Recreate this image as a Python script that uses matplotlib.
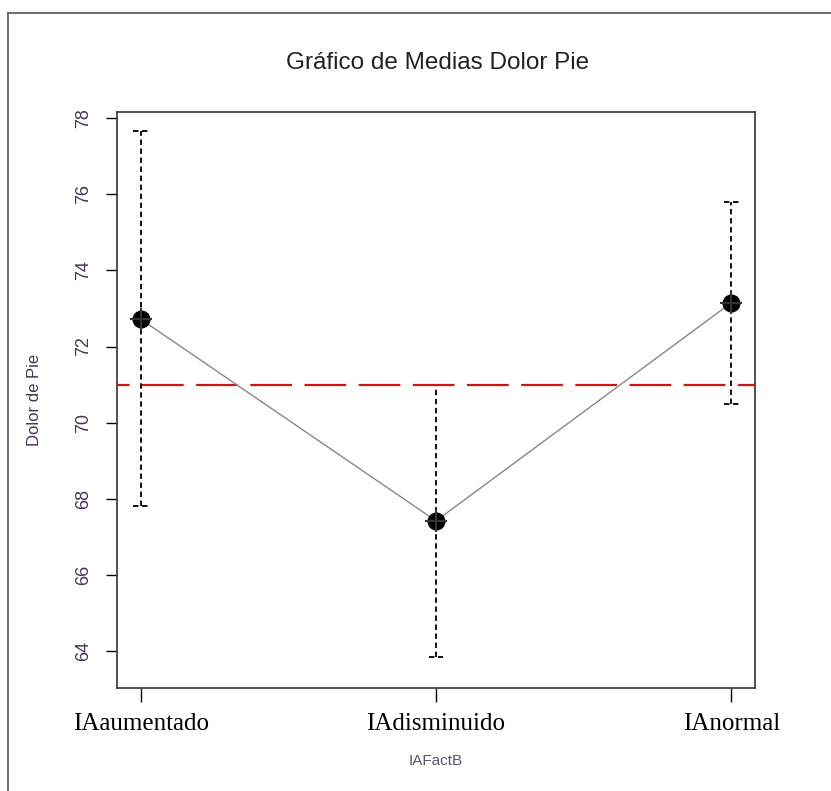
import numpy as np
import matplotlib.pyplot as plt
from matplotlib.lines import Line2D

groups = ['IAaumentado', 'IAdisminuido', 'IAnormal']
means = [72.72, 67.42, 73.15]
upper = [77.65, 71.0, 75.8]
lower = [67.8, 63.85, 70.5]
grand_mean = 71.0
yticks = [64, 66, 68, 70, 72, 74, 76, 78]

x = np.arange(1, len(groups) + 1)

fig = plt.figure(figsize=(8.31, 7.91), dpi=100)
ax = fig.add_axes([0.1408, 0.1302, 0.7677, 0.7282])

# outer frame (only left and top visible)
fig.add_artist(Line2D([0.0096, 0.0096], [0, 0.9836], color='#555555', lw=1.2, transform=fig.transFigure))
fig.add_artist(Line2D([0.0096, 1.0], [0.9836, 0.9836], color='#555555', lw=1.2, transform=fig.transFigure))

# error bars (dashed) with dashed caps
ax.vlines(x, lower, upper, colors='black', linestyles=(0, (3, 2)), lw=1.3, zorder=2)
cw = 0.025
ax.hlines(upper, x - cw, x + cw, colors='black', linestyles=(0, (3, 2)), lw=1.3, zorder=2)
ax.hlines(lower, x - cw, x + cw, colors='black', linestyles=(0, (3, 2)), lw=1.3, zorder=2)

# grand mean
ax.axhline(grand_mean, color='red', lw=1.5, linestyle=(14, (20, 6)), zorder=3)

# means
ax.plot(x, means, color='#888888', lw=1.0, zorder=3)
ax.plot(x, means, 'o', color='black', ms=12, zorder=4)
ax.plot(x, means, '+', color='#333333', ms=16, mew=1.5, zorder=5)

ax.set_xlim(0.92, 3.08)
ax.set_ylim(63.03, 78.16)
ax.set_yticks(yticks)
ax.set_yticklabels([str(v) for v in yticks], rotation=90, va='center',
                   fontsize=13, color='#4a3360', family='Liberation Sans')
ax.set_xticks(x)
ax.set_xticklabels(groups, fontsize=18, family='Liberation Serif', color='black')
ax.tick_params(axis='y', length=8, width=1, pad=10)
ax.tick_params(axis='x', length=10, width=1, pad=8)
for s in ax.spines.values():
    s.set_linewidth(1.2)
    s.set_color('#333333')

ax.set_ylabel('Dolor de Pie', fontsize=12, color='#4a3360', family='Liberation Sans', labelpad=24)
ax.set_xlabel('IAFactB', fontsize=11, color='#555577', family='Liberation Sans', labelpad=14)
fig.text(0.526, 0.92, 'Gráfico de Medias Dolor Pie', ha='center', va='center',
         fontsize=17.5, family='Liberation Sans', color='#222222')

fig.savefig('out.png', dpi=100)
